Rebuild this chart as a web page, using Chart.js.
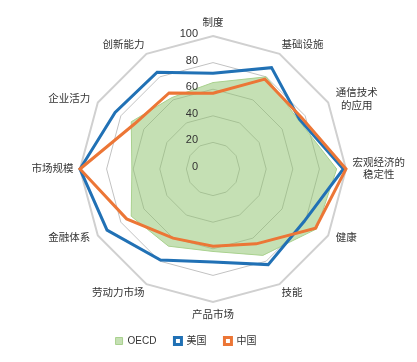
<!DOCTYPE html>
<html>
<head>
<meta charset="utf-8">
<script src="https://cdn.jsdelivr.net/npm/chart.js@4/dist/chart.umd.min.js"></script>
<style>
  html, body { margin: 0; padding: 0; background: #fff; }
  canvas { display: block; }
</style>
</head>
<body>
<canvas id="radar" width="417" height="362"></canvas>
<script>
// Axis labels (clockwise from the top)
const categories = [
  "制度", "基础设施", ["通信技术", "的应用"], ["宏观经济的", "稳定性"],
  "健康", "技能", "产品市场", "劳动力市场", "金融体系", "市场规模", "企业活力", "创新能力"
];
const seriesNames = ["OECD", "美国", "中国"];
const oecdValues = [65, 80, 74, 93, 90, 75, 62, 67, 71, 61, 71, 62];
const usValues = [72, 88, 75, 98, 79, 83, 70, 79, 92, 100, 85, 84];
const chinaValues = [57, 78, 77, 100, 89, 65, 58, 60, 75, 100, 68, 66];
const tickValues = [0, 20, 40, 60, 80, 100];

const FONT = "'Liberation Sans', 'Noto Sans CJK SC', sans-serif";
Chart.defaults.font.family = FONT;

// gap between the outer ring and a label, by how sideways/upright the axis is
function labelGap(v, big, mid, small) {
  const m = Math.abs(v);
  if (m > 0.99) return Math.sign(v) * big;
  if (m > 0.8) return Math.sign(v) * mid;
  if (m > 0.1) return Math.sign(v) * small;
  return 0;
}

// tick numbers and axis names are drawn here so they sit like the original
const radarText = {
  id: "radarText",
  afterDatasetsDraw(chart) {
    const r = chart.scales.r;
    const ctx = chart.ctx;
    ctx.save();
    ctx.fillStyle = "#333";
    ctx.textBaseline = "middle";

    ctx.font = "11px " + FONT;
    ctx.textAlign = "right";
    tickValues.forEach((v) => {
      const d = r.getDistanceFromCenterForValue(v);
      ctx.fillText(String(v), r.xCenter - 15, r.yCenter - d - 2);
    });

    ctx.font = "10.5px " + FONT;
    ctx.textAlign = "center";
    categories.forEach((lab, i) => {
      const a = r.getIndexAngle(i);
      const s = Math.sin(a);
      const c = Math.cos(a);
      const p = r.getPointPosition(i, r.drawingArea);
      const ax = p.x + labelGap(s, 6.5, 7.5, 2);
      const ay = p.y - labelGap(c, 13, 9, 3);
      const lines = Array.isArray(lab) ? lab : [lab];
      const w = Math.max(...lines.map((t) => ctx.measureText(t).width));
      let x = ax;
      if (Math.abs(s) > 0.01) x = s > 0 ? ax + w / 2 : ax - w / 2;
      lines.forEach((t, k) => {
        ctx.fillText(t, x, ay + (k - (lines.length - 1) / 2) * 12.5);
      });
    });
    ctx.restore();
  },
};

// move the legend a little to the left, as in the original
const legendShift = {
  id: "legendShift",
  afterLayout(chart) {
    chart.legend.left -= 27;
    chart.legend.right -= 27;
  },
};

new Chart(document.getElementById("radar"), {
  type: "radar",
  data: {
    labels: categories,
    datasets: [
      {
        label: seriesNames[0],
        data: oecdValues,
        backgroundColor: "rgba(139, 193, 105, 0.5)",
        borderColor: "#a9d18e",
        borderWidth: 1,
        fill: true,
        order: 3,
      },
      {
        label: seriesNames[1],
        data: usValues,
        backgroundColor: "#fff",
        borderColor: "#2171b5",
        borderWidth: 3,
        fill: false,
        order: 2,
      },
      {
        label: seriesNames[2],
        data: chinaValues,
        backgroundColor: "#fff",
        borderColor: "#ec7636",
        borderWidth: 3,
        fill: false,
        order: 1,
      },
    ],
  },
  options: {
    responsive: false,
    animation: false,
    devicePixelRatio: 1,
    layout: { padding: { left: 80, right: 71, top: 20, bottom: 6 } },
    elements: {
      point: { radius: 0, hoverRadius: 0 },
      line: { tension: 0 },
    },
    scales: {
      r: {
        min: 0,
        max: 100,
        ticks: { stepSize: 20, display: false },
        pointLabels: { display: false },
        angleLines: { display: false },
        grid: {
          color: (c) => (c.tick && c.tick.value === 100 ? "#d0d0d0" : "#c2c2c2"),
          lineWidth: (c) => (c.tick && c.tick.value === 100 ? 2 : 1),
        },
      },
    },
    plugins: {
      tooltip: { enabled: false },
      legend: {
        position: "bottom",
        labels: {
          boxWidth: 7,
          boxHeight: 7,
          padding: 18,
          color: "#333",
          font: { size: 10 },
          sort: (a, b) => a.datasetIndex - b.datasetIndex,
        },
      },
    },
  },
  plugins: [radarText, legendShift],
});
</script>
</body>
</html>
